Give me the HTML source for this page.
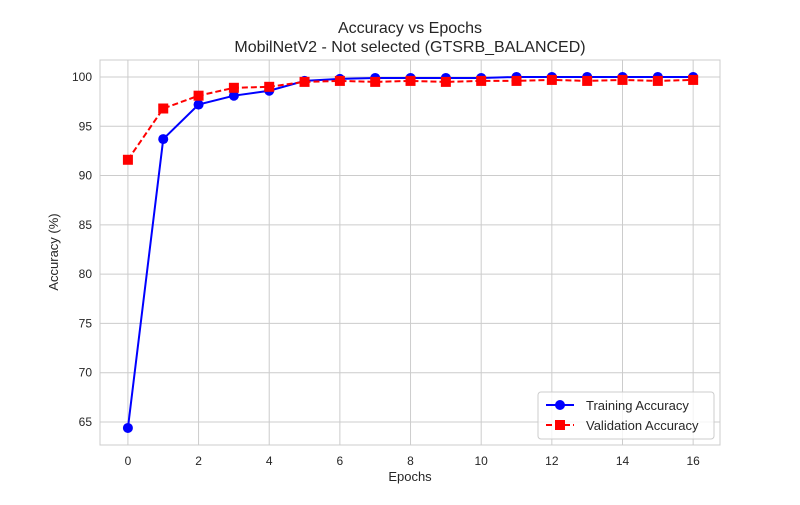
<!DOCTYPE html>
<html><head><meta charset="utf-8"><style>
body{margin:0;background:#fff;font-family:"Liberation Sans",sans-serif}
svg text{font-family:"Liberation Sans",sans-serif;fill:#262626}
</style></head><body>
<svg width="800" height="500" xmlns="http://www.w3.org/2000/svg">
<rect width="800" height="500" fill="#fff"/>
<g id="grid"></g>
<rect x="100" y="60" width="620" height="385" fill="none" stroke="#ccc" stroke-width="1"/>
<g id="ticks"></g>
<g id="series"></g>
<text x="410" y="33" font-size="16" text-anchor="middle">Accuracy vs Epochs</text>
<text x="410" y="52" font-size="16" text-anchor="middle">MobilNetV2 - Not selected (GTSRB_BALANCED)</text>
<text x="410" y="481" font-size="13" text-anchor="middle">Epochs</text>
<text x="58" y="252" font-size="13" text-anchor="middle" transform="rotate(-90 58 252)">Accuracy (%)</text>
<g>
<rect x="538" y="392" width="176" height="47" rx="3" fill="#fff" fill-opacity="0.8" stroke="#ccc"/>
<g>
<line x1="546" y1="405" x2="574" y2="405" stroke="#0000ff" stroke-width="2"/>
<circle cx="560" cy="405" r="5" fill="#0000ff"/>
<text x="586" y="410" font-size="13">Training Accuracy</text></g>
<g>
<line x1="546" y1="425" x2="574" y2="425" stroke="#ff0000" stroke-width="2" stroke-dasharray="6,3"/>
<rect x="555" y="420" width="10" height="10" fill="#ff0000"/>
<text x="586" y="430" font-size="13">Validation Accuracy</text></g>
</g>
</svg>
<script>
const epochs=[0,1,2,3,4,5,6,7,8,9,10,11,12,13,14,15,16];
const trainAcc=[64.4,93.7,97.2,98.1,98.6,99.6,99.8,99.9,99.9,99.9,99.9,100,100,100,100,100,100];
const valAcc=[91.6,96.8,98.1,98.9,99.0,99.5,99.6,99.5,99.6,99.5,99.6,99.6,99.7,99.6,99.7,99.6,99.7];
const xTicks=[0,2,4,6,8,10,12,14,16];
const yTicks=[65,70,75,80,85,90,95,100];
const NS='http://www.w3.org/2000/svg';
const X0=100,X1=720,Y0=60,Y1=445,xmin=-0.79,xmax=16.76,ymin=62.67,ymax=101.72;
const xs=v=>X0+(v-xmin)/(xmax-xmin)*(X1-X0);
const ys=v=>Y1-(v-ymin)/(ymax-ymin)*(Y1-Y0);
function mk(t,a,p){const e=document.createElementNS(NS,t);for(const k in a)e.setAttribute(k,a[k]);p.appendChild(e);return e;}
const grid=document.getElementById('grid'),ticks=document.getElementById('ticks'),ser=document.getElementById('series');
xTicks.forEach(v=>{
 const l=mk('line',{x1:xs(v),x2:xs(v),y1:Y0,y2:Y1,stroke:'#ccc'},grid);
 
 
 const t=mk('text',{x:xs(v),y:Y1+20,'font-size':12,'text-anchor':'middle'},ticks);t.textContent=v;
 
 
});
yTicks.forEach(v=>{
 const l=mk('line',{x1:X0,x2:X1,y1:ys(v),y2:ys(v),stroke:'#ccc'},grid);
 
 
 const t=mk('text',{x:X0-8,y:ys(v)+4,'font-size':12,'text-anchor':'end'},ticks);t.textContent=v;
 
 
});
const tp=mk('polyline',{points:epochs.map((e,i)=>xs(e)+','+ys(trainAcc[i])).join(' '),fill:'none',stroke:'#0000ff','stroke-width':2},ser);


const vp=mk('polyline',{points:epochs.map((e,i)=>xs(e)+','+ys(valAcc[i])).join(' '),fill:'none',stroke:'#ff0000','stroke-width':2,'stroke-dasharray':'6,3'},ser);


epochs.forEach((e,i)=>{
 const c=mk('circle',{cx:xs(e),cy:ys(trainAcc[i]),r:5,fill:'#0000ff'},ser);
 
 
});
epochs.forEach((e,i)=>{
 const r=mk('rect',{x:xs(e)-5,y:ys(valAcc[i])-5,width:10,height:10,fill:'#ff0000'},ser);
 
 
});
</script>
</body></html>
